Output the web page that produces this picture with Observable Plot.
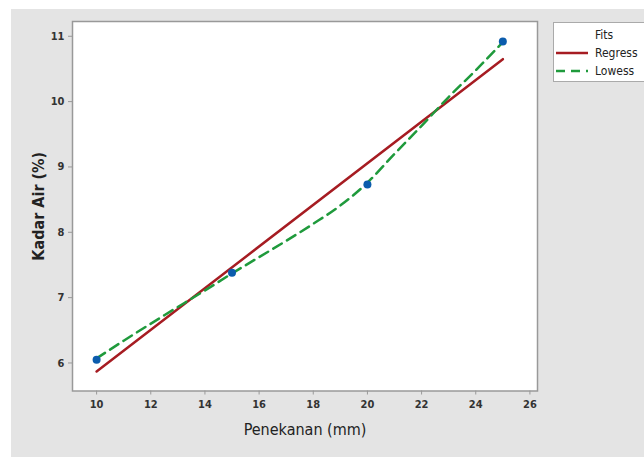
<!DOCTYPE html>
<html><head><meta charset="utf-8">
<script src="https://cdn.jsdelivr.net/npm/d3@7"></script>
<script src="https://cdn.jsdelivr.net/npm/@observablehq/plot@0.6"></script>
<style>
html,body{margin:0;padding:0;background:#fff;width:644px;height:457px;overflow:hidden;}
#bg{position:absolute;left:11px;top:9px;width:633px;height:448px;background:#e4e4e4;}
#chart{position:absolute;left:0;top:0;}
#legend{position:absolute;left:553px;top:22px;}
text{font-family:"Liberation Sans Narrow","DejaVu Sans Condensed",sans-serif;}
</style></head>
<body>
<div id="bg"><div id="chart"></div></div>
<svg id="legend" width="91" height="60"></svg>
<script>
const penekanan = [10, 15, 20, 25];
const kadarAir = [6.05, 7.38, 8.73, 10.92];
const regressX = [10, 25];
const regressY = [5.87, 10.65];
const lowessX = [10, 11, 12.5, 14, 15, 16, 17, 18, 19, 20, 21, 22, 23, 24, 25];
const lowessY = [6.07, 6.34, 6.73, 7.11, 7.37, 7.62, 7.87, 8.13, 8.41, 8.76, 9.2, 9.63, 10.07, 10.48, 10.91];
const xTicks = [10, 12, 14, 16, 18, 20, 22, 24, 26];
const yTicks = [6, 7, 8, 9, 10, 11];
const legendItems = ["Regress", "Lowess"];

const pts = penekanan.map((x, i) => ({x, y: kadarAir[i]}));
const reg = regressX.map((x, i) => ({x, y: regressY[i]}));
const low = lowessX.map((x, i) => ({x, y: lowessY[i]}));

const font = '"Liberation Sans Narrow","DejaVu Sans Condensed",sans-serif';
const plot = Plot.plot({
  width: 633, height: 448,
  marginLeft: 61, marginRight: 107, marginTop: 12, marginBottom: 66.5,
  style: {background: "transparent", fontFamily: font, fontSize: "11px", color: "#333"},
  x: {domain: [9.11, 26.28], ticks: xTicks, label: null, tickSize: 4},
  y: {domain: [5.571, 11.226], ticks: yTicks, label: null, tickSize: 4},
  marks: [
    Plot.frame({fill: "white", stroke: "none"}),
    Plot.axisX({ticks: xTicks, tickFormat: d => String(d), tickSize: 4, tickPadding: 5, stroke: "#999", fill: "#333", fontWeight: "bold", fontSize: 11,
      label: "Penekanan (mm)", labelAnchor: "center", labelArrow: "none", labelOffset: 44}),
    Plot.axisY({ticks: yTicks, tickFormat: d => String(d), tickSize: 4, tickPadding: 4, stroke: "#999", fill: "#333", fontWeight: "bold", fontSize: 11,
      label: "Kadar Air (%)", labelAnchor: "center", labelArrow: "none", labelOffset: 40}),
    Plot.line(reg, {x: "x", y: "y", stroke: "#a61c22", strokeWidth: 2.5}),
    Plot.line(low, {x: "x", y: "y", stroke: "#1f9a3c", strokeWidth: 2.5, strokeDasharray: "10,6", curve: "monotone-x"}),
    Plot.dot(pts, {x: "x", y: "y", r: 4, fill: "#0b5cad", stroke: "none"}),
    Plot.frame({stroke: "#999", strokeWidth: 1.5})
  ]
});
document.getElementById("chart").appendChild(plot);
plot.querySelectorAll("g[aria-label='x-axis label'] text, g[aria-label='y-axis label'] text").forEach(t => {
  t.setAttribute("font-size", "16");
  t.setAttribute("fill", "#222");
});
const xl = plot.querySelector("g[aria-label='x-axis label']");
if (xl) xl.setAttribute("font-weight", "normal");
plot.querySelectorAll("g[aria-label='x-axis label'] text").forEach(t => t.setAttribute("font-weight", "normal"));

// legend
const lg = d3.select("#legend");
lg.append("rect").attr("x", 0.5).attr("y", 0.5).attr("width", 95).attr("height", 59)
  .attr("fill", "white").attr("stroke", "#aaa");
lg.append("text").attr("x", 51).attr("y", 17).attr("text-anchor", "middle")
  .attr("font-size", 12).attr("fill", "#222").text("Fits");
const styles = [{stroke: "#a61c22", dash: null}, {stroke: "#1f9a3c", dash: "9,6"}];
legendItems.forEach((name, i) => {
  const y = 31 + i * 18;
  const l = lg.append("line").attr("x1", 3).attr("x2", 35).attr("y1", y).attr("y2", y)
    .attr("stroke", styles[i].stroke).attr("stroke-width", 2.5);
  if (styles[i].dash) l.attr("stroke-dasharray", styles[i].dash);
  lg.append("text").attr("x", 42).attr("y", y + 4).attr("font-size", 12).attr("fill", "#222").text(name);
});
</script>
</body></html>
